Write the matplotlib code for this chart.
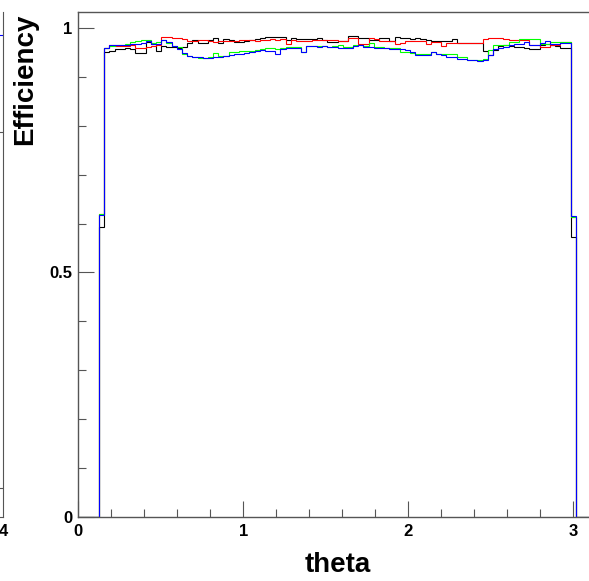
import numpy as np
import matplotlib
matplotlib.use("Agg")
import matplotlib.pyplot as plt
from matplotlib.ticker import MultipleLocator

plt.rcParams['font.family'] = ['Liberation Sans', 'DejaVu Sans']
plt.rcParams['font.weight'] = 'bold'

# efficiency per theta bin, bins 4..95 of 100 between 0 and pi (rest are empty)
first_bin = 4
n_bins = 100

eff_black = [0.593, 0.950, 0.953, 0.957, 0.957, 0.960, 0.957, 0.948, 0.949, 0.972,
             0.967, 0.952, 0.963, 0.962, 0.961, 0.958, 0.962, 0.970, 0.975, 0.970,
             0.970, 0.975, 0.979, 0.970, 0.977, 0.975, 0.972, 0.972, 0.974, 0.975,
             0.978, 0.980, 0.981, 0.981, 0.981, 0.982, 0.976, 0.980, 0.978, 0.978,
             0.978, 0.978, 0.979, 0.976, 0.971, 0.971, 0.974, 0.974, 0.983, 0.983,
             0.979, 0.979, 0.975, 0.975, 0.979, 0.979, 0.973, 0.982, 0.980, 0.979,
             0.977, 0.979, 0.978, 0.976, 0.973, 0.973, 0.973, 0.973, 0.977, 0.970,
             0.970, 0.970, 0.970, 0.970, 0.953, 0.945, 0.955, 0.963, 0.965, 0.963,
             0.962, 0.962, 0.958, 0.957, 0.957, 0.966, 0.968, 0.966, 0.964, 0.960,
             0.958, 0.573]

eff_red = [0.620, 0.958, 0.965, 0.963, 0.963, 0.963, 0.965, 0.960, 0.960, 0.962,
           0.964, 0.965, 0.981, 0.981, 0.980, 0.980, 0.978, 0.974, 0.973, 0.975,
           0.975, 0.974, 0.972, 0.973, 0.974, 0.974, 0.974, 0.975, 0.975, 0.975,
           0.974, 0.975, 0.976, 0.977, 0.975, 0.977, 0.967, 0.975, 0.974, 0.974,
           0.974, 0.976, 0.976, 0.976, 0.975, 0.975, 0.974, 0.974, 0.979, 0.979,
           0.967, 0.967, 0.979, 0.977, 0.974, 0.973, 0.973, 0.968, 0.969, 0.974,
           0.974, 0.973, 0.973, 0.968, 0.971, 0.971, 0.964, 0.969, 0.969, 0.969,
           0.969, 0.969, 0.969, 0.970, 0.978, 0.980, 0.980, 0.980, 0.978, 0.976,
           0.975, 0.975, 0.975, 0.965, 0.965, 0.961, 0.961, 0.965, 0.965, 0.971,
           0.971, 0.614]

eff_green = [0.620, 0.958, 0.963, 0.966, 0.966, 0.968, 0.972, 0.974, 0.976, 0.975,
             0.970, 0.972, 0.975, 0.970, 0.963, 0.961, 0.947, 0.943, 0.940, 0.939,
             0.939, 0.941, 0.948, 0.942, 0.942, 0.950, 0.951, 0.952, 0.953, 0.953,
             0.955, 0.957, 0.958, 0.958, 0.957, 0.958, 0.961, 0.961, 0.961, 0.950,
             0.963, 0.964, 0.963, 0.963, 0.962, 0.963, 0.965, 0.961, 0.961, 0.965,
             0.965, 0.964, 0.970, 0.961, 0.961, 0.960, 0.958, 0.958, 0.951, 0.950,
             0.948, 0.946, 0.947, 0.947, 0.951, 0.946, 0.946, 0.947, 0.947, 0.941,
             0.941, 0.934, 0.934, 0.934, 0.937, 0.954, 0.965, 0.965, 0.965, 0.971,
             0.971, 0.977, 0.977, 0.977, 0.977, 0.968, 0.968, 0.971, 0.971, 0.971,
             0.971, 0.614]

eff_blue = [0.617, 0.958, 0.965, 0.966, 0.965, 0.966, 0.967, 0.968, 0.970, 0.973,
            0.967, 0.968, 0.975, 0.972, 0.964, 0.957, 0.949, 0.943, 0.941, 0.940,
            0.938, 0.938, 0.940, 0.941, 0.943, 0.944, 0.947, 0.947, 0.949, 0.950,
            0.953, 0.954, 0.952, 0.952, 0.946, 0.957, 0.958, 0.960, 0.959, 0.950,
            0.963, 0.963, 0.962, 0.963, 0.962, 0.961, 0.960, 0.960, 0.959, 0.964,
            0.965, 0.961, 0.962, 0.960, 0.959, 0.960, 0.957, 0.956, 0.957, 0.955,
            0.950, 0.945, 0.944, 0.944, 0.950, 0.946, 0.945, 0.941, 0.940, 0.937,
            0.937, 0.934, 0.934, 0.933, 0.934, 0.944, 0.956, 0.958, 0.962, 0.966,
            0.968, 0.968, 0.971, 0.966, 0.966, 0.970, 0.974, 0.968, 0.968, 0.970,
            0.969, 0.616]

series = [(eff_black, 'black'), (eff_red, '#ff0000'),
          (eff_green, '#00ff00'), (eff_blue, '#0000ff')]

# bits of the neighbouring pad that show at the left border
nb_blue_level = 0.955
nb_tick_levels = [0.763, 0.057]

W, H = 589, 581
fig = plt.figure(figsize=(W / 100, H / 100), dpi=100)

# main pad (runs past the right border of the picture, like the crop)
x0, x1, ytop, ybot = 78.3, 596.7, 12.3, 517
ax = fig.add_axes([x0 / W, 1 - ybot / H, (x1 - x0) / W, (ybot - ytop) / H])

edges = np.linspace(0, np.pi, n_bins + 1)
for vals, col in series:
    full = np.zeros(n_bins)
    full[first_bin:first_bin + len(vals)] = vals
    ax.stairs(full, edges, baseline=None, color=col, lw=0.8)

ax.set_xlim(0, np.pi)
ax.set_ylim(0, 1.032)

axcol = '#555555'
for s in ax.spines.values():
    s.set_color(axcol)
    s.set_linewidth(1.0)

ax.xaxis.set_major_locator(MultipleLocator(1))
ax.xaxis.set_minor_locator(MultipleLocator(0.2))
ax.yaxis.set_major_locator(MultipleLocator(0.5))
ax.yaxis.set_minor_locator(MultipleLocator(0.1))
ax.tick_params(which='both', direction='in', color=axcol, top=False, right=False)
ax.tick_params(which='major', length=11.5, width=0.8, labelsize=12)
ax.tick_params(which='minor', length=5.8, width=0.8)
ax.tick_params(axis='x', which='major', pad=5)
ax.tick_params(axis='y', which='major', pad=4)
ax.set_xticks([0, 1, 2, 3])
ax.set_xticklabels(['0', '1', '2', '3'], fontweight='bold')
ax.set_yticks([0, 0.5, 1])
ax.set_yticklabels(['0', '0.5', '1'], fontweight='bold')

fig.text(338 / W, 1 - 565 / H, 'theta', fontsize=20, fontweight='bold',
         ha='center', va='center')
fig.text(25 / W, 1 - 14 / H, 'Efficiency', fontsize=20, fontweight='bold',
         rotation=90, ha='center', va='top')

# edge of the neighbouring pad on the left
nb = fig.add_axes([-200 / W, 1 - ybot / H, 203 / W, (ybot - ytop) / H])
nb.set_xlim(0, 4)
nb.set_ylim(0, 1)
nb.set_yticks([])
nb.set_xticks([4])
nb.set_xticklabels(['4'], fontweight='bold')
nb.tick_params(axis='x', length=0, labelsize=12, pad=5)
for s in nb.spines.values():
    s.set_color(axcol)
nb.spines['top'].set_visible(False)
nb.plot([3.5, 4], [nb_blue_level, nb_blue_level], color='#0000ff', lw=0.8)
for lv in nb_tick_levels:
    nb.plot([3.8, 4], [lv, lv], color=axcol, lw=0.8)

fig.savefig('out.png', dpi=100)
